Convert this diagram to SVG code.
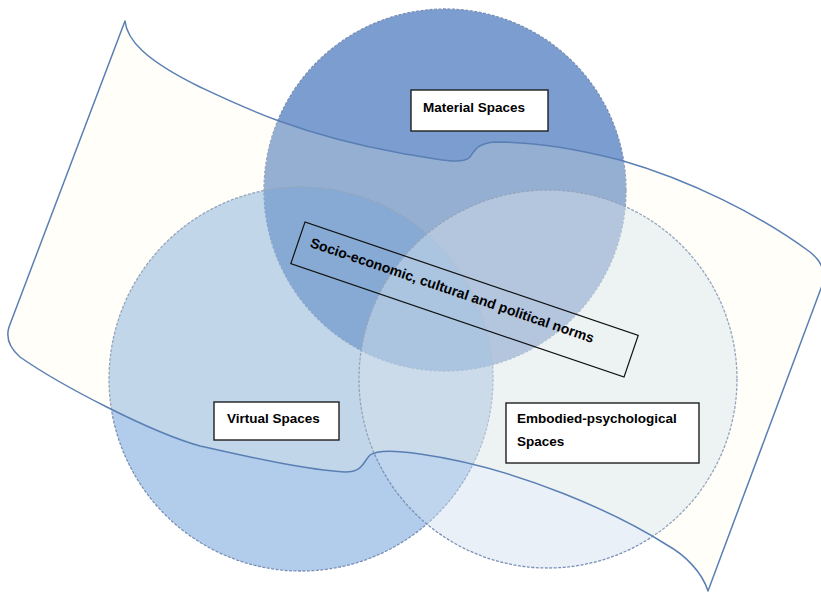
<svg xmlns="http://www.w3.org/2000/svg" width="821" height="593" viewBox="0 0 821 593">
<defs>
<style>
.c{stroke:#7a90b5;stroke-width:1.3;stroke-dasharray:3 1.5}
.box{fill:#ffffff;stroke:#1e1e1e;stroke-width:1.4}
.t{font-family:"Liberation Sans",Arial,sans-serif;font-weight:bold;font-size:13.5px;fill:#000}
</style>
</defs>
<rect width="821" height="593" fill="#ffffff"/>
<g id="circles">
<g id="material"><circle class="c" cx="445" cy="190" r="181" fill="#7b9dd0"/></g>
<g id="virtual"><circle class="c" cx="301" cy="379" r="192" fill="rgb(85,144,213)" fill-opacity="0.45"/></g>
<g id="embodied"><circle class="c" cx="548" cy="379" r="189" fill="rgb(207,222,240)" fill-opacity="0.45"/></g>
</g>
<g id="ribbon">
<path d="M125,21 C127,40 145,60 200,87 C240,106 300,135 400,153 C440,160 462,165 470,157 C475,150 478,143 495,142 C540,142 580,150 620,160 C690,180 760,215 810,252 C820,260 826,270 823,283 L708,591 C702,572 685,555 667,545 C620,515 520,468 420,454 C400,451 378,449 370,455 C363,462 363,472 345,472 C305,470 240,455 200,446 C150,432 60,385 20,357 C12,350 5,340 9,327 Z" fill="rgb(255,250,225)" fill-opacity="0.2" stroke="#5a7fb3" stroke-width="1.5" stroke-linejoin="round"/>
</g>
<g id="material-label">
<rect class="box" x="411" y="90" width="137" height="41"/>
<text class="t" x="423" y="112">Material Spaces</text>
</g>
<g id="virtual-label">
<rect class="box" x="214" y="402" width="125" height="38"/>
<text class="t" x="227" y="423">Virtual Spaces</text>
</g>
<g id="embodied-label">
<rect class="box" x="506" y="403" width="193" height="60"/>
<text class="t" x="517" y="423">Embodied-psychological</text>
<text class="t" x="517" y="446">Spaces</text>
</g>
<g id="norms-label" transform="translate(305,222) rotate(18.8)">
<rect x="0" y="0" width="352" height="44" fill="none" stroke="#111" stroke-width="1.2"/>
<text class="t" x="12" y="22" style="font-size:14px">Socio-economic, cultural and political norms</text>
</g>
</svg>
